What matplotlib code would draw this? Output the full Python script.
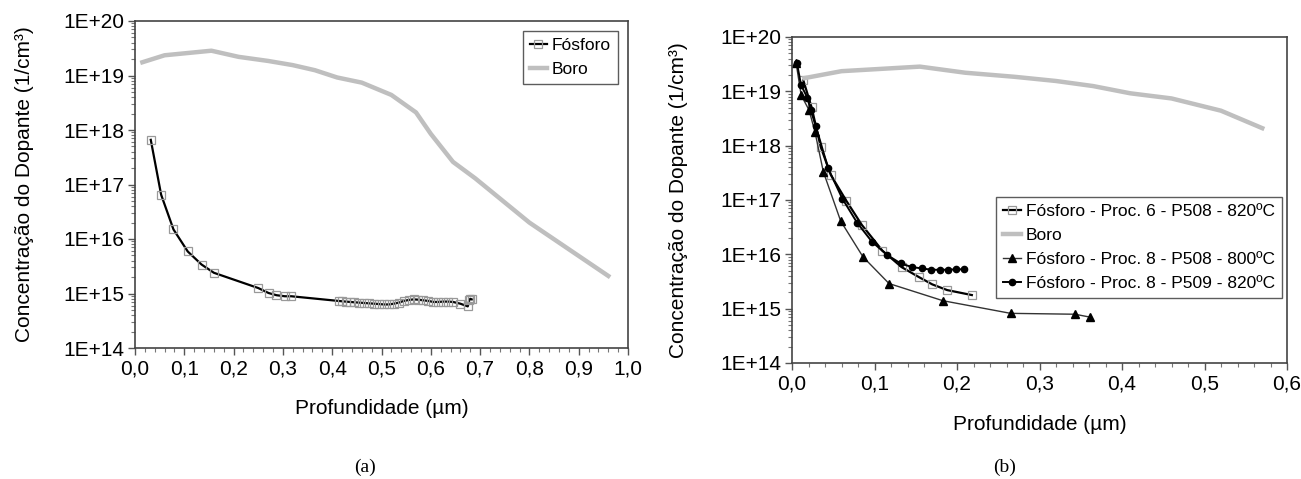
import matplotlib
matplotlib.use("Agg")
import matplotlib.pyplot as plt
from matplotlib.ticker import FuncFormatter, MultipleLocator, LogLocator, NullFormatter
import numpy as np

plt.rcParams['font.family'] = ['Liberation Sans', 'DejaVu Sans']

# boro profile (same in both panels, panel b stops at 0.57 um)
boro_x = [0.015, 0.06, 0.155, 0.21, 0.27, 0.32, 0.365, 0.41, 0.46, 0.52, 0.57,
          0.60, 0.645, 0.69, 0.80, 0.96]
boro_y = [1.75e19, 2.35e19, 2.85e19, 2.2e19, 1.85e19, 1.55e19, 1.25e19, 9.2e18,
          7.4e18, 4.4e18, 2.1e18, 8.5e17, 2.6e17, 1.3e17, 2.0e16, 2.1e15]

# panel (a) phosphorus
fos_a_x = [0.032, 0.053, 0.078, 0.107, 0.135, 0.16, 0.25, 0.271, 0.287, 0.304, 0.317,
           0.413, 0.42, 0.428, 0.436, 0.445, 0.455, 0.465, 0.475, 0.485, 0.495, 0.505,
           0.515, 0.525, 0.535, 0.545, 0.555, 0.565, 0.575, 0.585, 0.595, 0.605, 0.615,
           0.625, 0.635, 0.645, 0.66, 0.675, 0.678, 0.68, 0.683]
fos_a_y = [6.6e17, 6.5e16, 1.5e16, 5.9e15, 3.4e15, 2.4e15, 1.26e15, 1.02e15, 9.3e14,
           8.9e14, 8.9e14, 7.3e14, 7.2e14, 7.1e14, 7.0e14, 6.9e14, 6.8e14, 6.7e14,
           6.6e14, 6.5e14, 6.4e14, 6.3e14, 6.3e14, 6.5e14, 6.8e14, 7.3e14, 7.6e14,
           7.8e14, 7.7e14, 7.5e14, 7.3e14, 7.0e14, 7.0e14, 7.1e14, 7.1e14, 7.0e14,
           6.5e14, 5.8e14, 7.5e14, 8.0e14, 7.8e14]

# panel (b)
p6_x = [0.0137, 0.0237, 0.0348, 0.047, 0.0658, 0.0845, 0.1095, 0.133, 0.154, 0.170, 0.188, 0.218]
p6_y = [1.6e19, 5.1e18, 9.5e17, 2.9e17, 9.7e16, 3.5e16, 1.17e16, 5.8e15, 3.8e15, 2.8e15, 2.2e15, 1.78e15]

p8_800_x = [0.005, 0.0111, 0.0207, 0.0278, 0.038, 0.059, 0.086, 0.1176, 0.183, 0.265, 0.343, 0.361]
p8_800_y = [3.3e19, 8.5e18, 4.5e18, 1.8e18, 3.3e17, 4.1e16, 9.0e15, 2.9e15, 1.4e15, 8.2e14, 7.9e14, 7.0e14]

p8_820_x = [0.006, 0.011, 0.0187, 0.0227, 0.0288, 0.0439, 0.061, 0.079, 0.097, 0.1155,
            0.1317, 0.1458, 0.158, 0.169, 0.179, 0.189, 0.199, 0.2085]
p8_820_y = [3.3e19, 1.3e19, 7.6e18, 4.5e18, 2.3e18, 3.8e17, 1.06e17, 3.8e16, 1.7e16, 9.7e15,
            6.8e15, 5.8e15, 5.5e15, 5.2e15, 5.2e15, 5.2e15, 5.3e15, 5.3e15]

W, H = 1301, 479
fig = plt.figure(figsize=(W / 100, H / 100), dpi=100)


def px_axes(x0, x1, ytop, ybot):
    return fig.add_axes([x0 / W, (H - ybot) / H, (x1 - x0) / W, (ybot - ytop) / H])


ax1 = px_axes(135, 628, 21, 348)
ax2 = px_axes(792, 1287, 37, 363)

gray = '#bfbfbf'
sq_edge = '#999999'

ax1.plot(fos_a_x, fos_a_y, color='black', lw=1.6, marker='s', ms=5.5, mfc='none',
         mec=sq_edge, mew=0.9, label='Fósforo')
ax1.plot(boro_x, boro_y, color=gray, lw=3.2, label='Boro')

nb = boro_x.index(0.57) + 1
ax2.plot(p6_x, p6_y, color='black', lw=1.6, marker='s', ms=5.5, mfc='none',
         mec=sq_edge, mew=0.9, label='Fósforo - Proc. 6 - P508 - 820ºC')
ax2.plot(boro_x[:nb], boro_y[:nb], color=gray, lw=3.2, label='Boro')
ax2.plot(p8_800_x, p8_800_y, color='#333333', lw=1.0, marker='^', ms=5.5, mfc='black',
         mec='black', label='Fósforo - Proc. 8 - P508 - 800ºC')
ax2.plot(p8_820_x, p8_820_y, color='black', lw=1.4, marker='o', ms=4.5, mfc='black',
         mec='black', label='Fósforo - Proc. 8 - P509 - 820ºC')

ylab = 'Concentração do Dopante (1/cm³)'
xlab = 'Profundidade (µm)'

for ax, xmax in ((ax1, 1.0), (ax2, 0.6)):
    ax.set_yscale('log')
    ax.set_ylim(1e14, 1e20)
    ax.set_xlim(0, xmax)
    ax.xaxis.set_major_locator(MultipleLocator(0.1))
    ax.xaxis.set_minor_locator(MultipleLocator(0.02))
    ax.xaxis.set_major_formatter(FuncFormatter(lambda v, p: f'{v:.1f}'.replace('.', ',')))
    ax.yaxis.set_major_locator(LogLocator(base=10, numticks=10))
    ax.yaxis.set_minor_locator(LogLocator(base=10, subs=np.arange(2, 10), numticks=20))
    ax.yaxis.set_minor_formatter(NullFormatter())
    ax.yaxis.set_major_formatter(FuncFormatter(lambda v, p: f'1E+{int(round(np.log10(v)))}'))
    ax.tick_params(which='major', direction='out', length=5, width=1, color='#555555',
                   labelsize=15, pad=3)
    ax.tick_params(which='minor', direction='out', length=3, width=0.8, color='#777777')
    for s in ax.spines.values():
        s.set_color('#444444')
        s.set_linewidth(1.2)
    ax.set_xlabel(xlab, fontsize=15)
    ax.set_ylabel(ylab, fontsize=15)

ax1.xaxis.set_label_coords(0.5, -0.155)
ax1.yaxis.set_label_coords(-0.205, 0.5)
ax2.xaxis.set_label_coords(0.5, -0.158)
ax2.yaxis.set_label_coords(-0.21, 0.5)

leg_kw = dict(fontsize=12.5, frameon=True, fancybox=False, handlelength=1.0,
              handletextpad=0.3, borderpad=0.4, labelspacing=0.5, borderaxespad=0)
l1 = ax1.legend(loc='upper right', bbox_to_anchor=(0.98, 0.97), **leg_kw)
l2 = ax2.legend(loc='lower right', bbox_to_anchor=(0.99, 0.2), **leg_kw)
for lg in (l1, l2):
    lg.get_frame().set_edgecolor('#333333')
    lg.get_frame().set_linewidth(1.0)

fig.text(365 / W, (H - 467) / H, '(a)', ha='center', va='center', fontsize=14, family='Liberation Serif')
fig.text(1005 / W, (H - 467) / H, '(b)', ha='center', va='center', fontsize=14, family='Liberation Serif')

fig.savefig('out.png', dpi=100)
